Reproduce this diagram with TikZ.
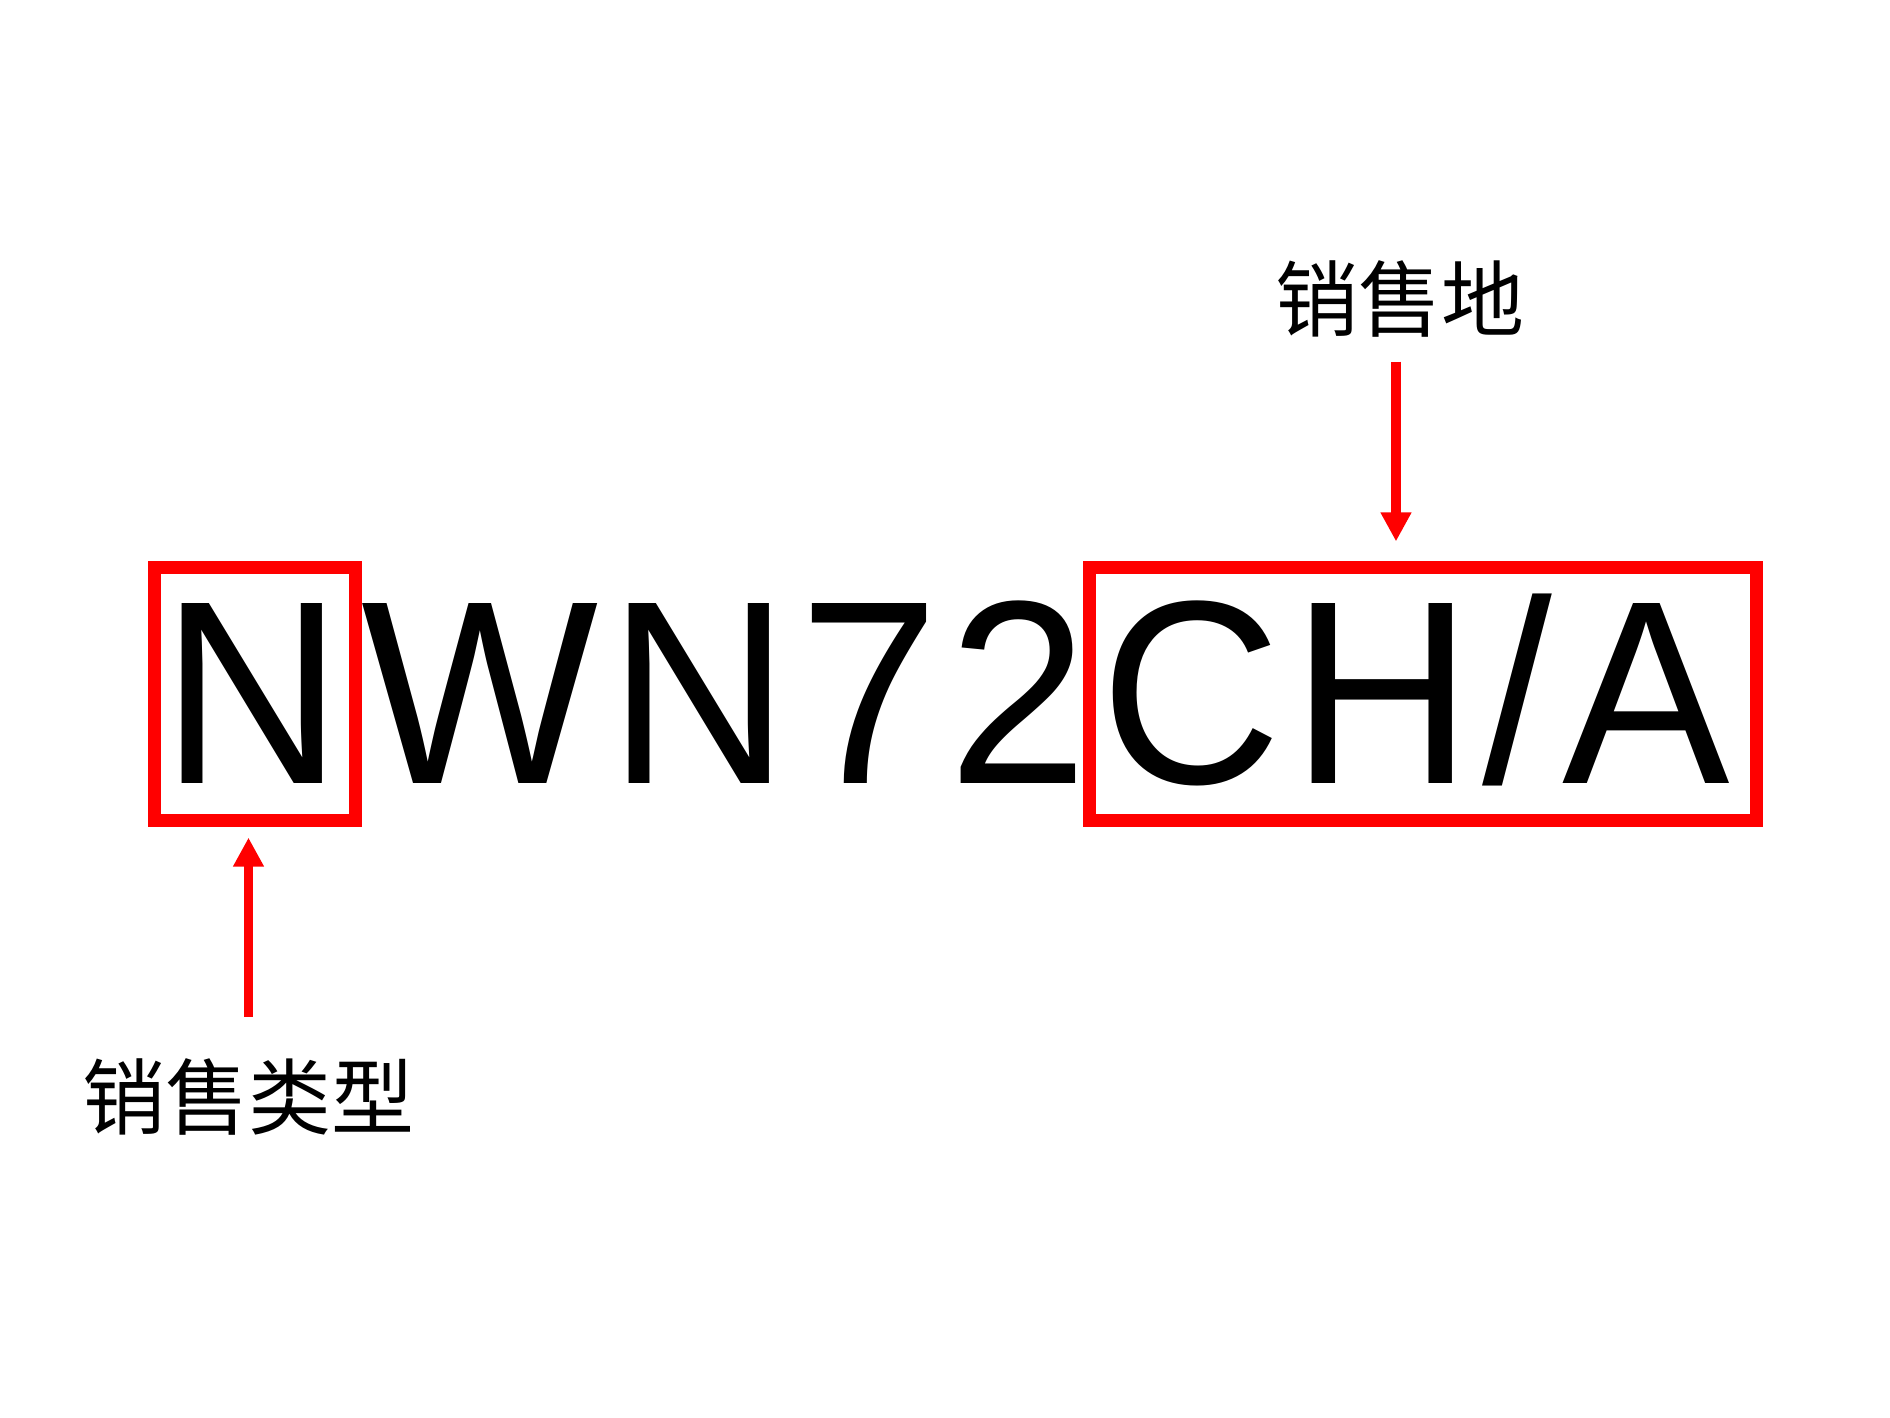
\documentclass[tikz,border=0pt]{standalone}
\usepackage{fontspec}
\usepackage{tikz}
\usetikzlibrary{arrows.meta, positioning, calc}
\newfontfamily\codefont[LetterSpace=3.8, FakeStretch=0.96]{Liberation Sans}
\newfontfamily\cjk{Noto Sans CJK SC}
\tikzset{
	code/.style={
		font=\codefont\fontsize{74.4pt}{84pt}\selectfont,
		inner sep=0pt,
		anchor=base west
	},
	redbox/.style={
		shape=rectangle,
		draw=red,
		line width=0.13cm,
		minimum height=2.53cm,
		inner sep=0pt
	},
	tag/.style={
		font=\cjk\fontsize{23.6pt}{28pt}\selectfont,
		inner sep=0pt
	},
	pointer/.style={
		draw=red,
		line width=0.095cm,
		-{Triangle[length=0.29cm, width=0.29cm]}
	}
}

\begin{document}
\begin{tikzpicture}[x=0.01cm, y=-0.01cm]
	\fill[white] (0,0) rectangle (1890,1417);
	\useasboundingbox (0,0) rectangle (1890,1417);

	\node[code] (n)   at (161,783)    {N};
	\node[code] (mid) at (360.5,783)  {WN72};
	\node[code] (cha) at (1099.5,783) {CH/A};

	\node[redbox, minimum width=2cm]    (typebox)  at (255,694)  {};
	\node[redbox, minimum width=6.67cm] (placebox) at (1423,694) {};

	\node[tag] (typelabel)  at (248.5,1097) {销售类型};
	\node[tag] (placelabel) at (1400,298.5) {销售地};

	\draw[pointer, shorten <=0.41cm, shorten >=0.105cm] (typelabel.north) -- (typelabel.north |- typebox.south);
	\draw[pointer, shorten <=0.24cm, shorten >=0.195cm] ([xshift=-0.04cm]placelabel.south) -- ([xshift=-0.04cm]placelabel.south |- placebox.north);
\end{tikzpicture}
\end{document}
